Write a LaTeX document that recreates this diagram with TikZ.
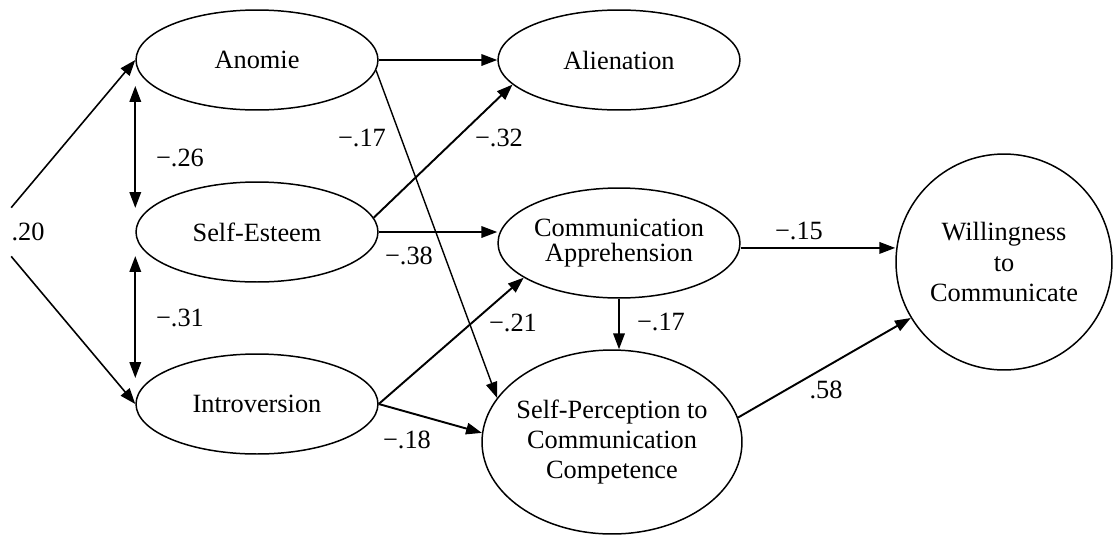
\documentclass[tikz,border=0pt]{standalone}
\usepackage{fontspec}
\setmainfont{Liberation Serif}
\usetikzlibrary{shapes.geometric, arrows.meta}

\begin{document}
\begin{tikzpicture}[x=0.02cm, y=-0.02cm, >={Triangle[length=9pt,width=6.5pt]},
    var/.style={draw, ellipse, line width=0.85pt, minimum width=4.84cm, minimum height=2cm,
        inner sep=0pt, align=center, font=\fontsize{15}{17}\selectfont},
    effect/.style={->, line width=1.1pt},
    coef/.style={inner sep=1pt, font=\fontsize{15}{17}\selectfont}]
    \useasboundingbox (0,0) rectangle (1116,535);

    % 外生变量
    \node[var] (anom) at (257,60) {Anomie};
    \node[var] (se) at (257,232) {Self-Esteem};
    \node[var] (intro) at (257,404) {Introversion};

    % 中介变量与结果变量
    \node[var] (alien) at (619,60) {Alienation};
    \node[var, minimum height=2.2cm] (ca) at (619,243) {Communication\\[-3pt]Apprehension};
    \node[var, minimum width=5.2cm, minimum height=3.68cm, inner xsep=-7mm] (sp) at (612,442)
        {Self-Perception to\\Communication\\Competence};
    \node[var, circle, minimum size=4.32cm] (wtc) at (1004,262) {Willingness\\[0.5pt]to\\[0.5pt]Communicate};

    % 相关
    \node[coef, minimum height=0.96cm, inner xsep=0pt] (r20) at (28,232) {.20};
    \draw[effect, line width=0.9pt] (r20.north west) -- (anom.west);
    \draw[effect, line width=0.9pt] (r20.south west) -- (intro.west);
    \draw[<->, line width=1.1pt] ([yshift=-14.8pt]anom.west) -- ([yshift=13.7pt]se.west);
    \draw[<->, line width=1.1pt] ([yshift=-13.7pt]se.west) -- ([yshift=14.8pt]intro.west);

    % 路径
    \draw[effect] (anom.east) -- (alien.west);
    \draw[effect, line width=0.8pt] (anom.-5) -- (sp.159);
    \draw[effect] (se.7) -- (alien.193);
    \draw[effect] (se.east) -- (se.east -| ca.west);
    \draw[effect] (intro.east) -- (ca.200);
    \draw[effect] (intro.east) -- (sp.176);
    \draw[effect] (ca.south) -- (ca.south |- sp.north);
    \draw[effect] ([yshift=-2.8pt]ca.east) -- ([yshift=-2.8pt]ca.east -| wtc.west);
    \draw[effect] (sp.11) -- (wtc.211);

    % 路径系数
    \foreach \n/\p/\t in {l26/{180,158}/−.26, l31/{180,318}/−.31, l17a/{362,138}/−.17,
        l32/{499,138}/−.32, l38/{409,256}/−.38, l21/{513,323}/−.21, l18/{407,440}/−.18,
        l17b/{661,322}/−.17, l15/{799,231}/−.15, l58/{826,390}/.58}
        \node[coef] (\n) at (\p) {\t};
\end{tikzpicture}
\end{document}
